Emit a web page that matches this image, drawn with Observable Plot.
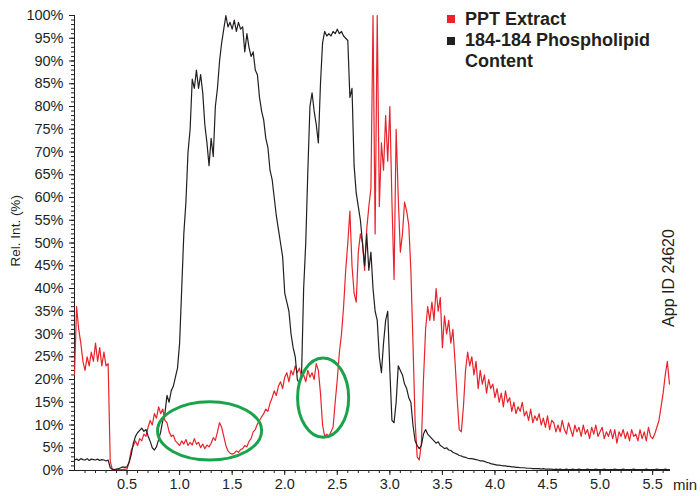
<!DOCTYPE html>
<html><head><meta charset="utf-8">
<script src="https://cdn.jsdelivr.net/npm/d3@7"></script>
<script src="https://cdn.jsdelivr.net/npm/@observablehq/plot@0.6"></script>
<style>
body{margin:0;background:#fff}
#wrap{position:relative;width:700px;height:496px;font-family:"Liberation Sans",Arial,Helvetica,sans-serif;color:#231f20}
.ov{position:absolute;white-space:nowrap;line-height:1}
</style>
</head><body><div id="wrap"></div>
<script>
// Retention time grid: one sample every 0.02 min, 0.00 … 5.66 min
const seriesNames = ["PPT Extract", "184-184 Phospholipid Content"];
const seriesColors = ["#e8232b", "#231f20"];

// PPT Extract (red), % relative intensity
const pptExtract = [
21,36,31,28,24,22,25,23,26,24,
28,24,27,23,26,23,23.5,2,0.2,0.2,
0.2,0.2,0.2,0.2,0.3,0.3,2,4.5,5.5,6.5,
5.5,7,6.5,8,7.5,9.5,11,10,12.5,11.5,
14,12.5,13.5,11,10.5,8.5,7.5,7.8,6.5,6,
5.5,6.5,5.8,6.8,5.5,6.2,5.6,7.0,5.8,6.2,
5.0,5.8,4.8,5.6,5.2,6.0,7.2,6.6,8.5,10.5,
9.5,7.5,5.5,4.3,3.8,3.6,3.8,4.3,4.0,4.6,
4.8,5.5,5.2,6.4,7.0,8.5,9.0,10.2,11.0,11.8,
12.5,13.5,13.0,14.8,16.0,17.5,16.5,18.5,19.5,18.0,
20.5,21.5,19.5,22.0,21.0,23.0,21.5,22.5,20.5,21.0,
19.5,22,20.5,21.5,20,23.5,22,17,10,7.5,
8,7.5,8.5,9.5,15,20,26,30,36,44,
50,57,45,39,37,48,52,50,44,53,
58,62,100,52,100,58,72,66,78,68,
80,59,42,75,60,48,52,59,57,54,
44,28,11,3,2.3,6,20,31,36,33,
37,33,40,35,38,27,34,30,33,28,
31,24,16,9,8.5,14,22,26,23,25,
21,24,18,22,19,21,17,20,18,19,
16,18,15,17,14,17.5,15,16,13,15,
12.5,14,13,15,12,13,11,13.5,10.5,12,
11,12.5,10,11.5,9.5,12,9,11,10.5,8.5,
10,8.5,11,9,8,10.5,9,7.5,10,8.5,
9.5,7.5,10,8,9,7,9.5,8,10,7.5,
8.5,9.5,7,8.5,7.5,9,7,9,6,8.5,
7.5,9,7,8.5,6.5,9,7.5,8,6.5,9,
7,8.5,6.5,9.5,7.5,7,8,9.5,11,14,
17,21,24,19
];

// 184-184 Phospholipid Content (black), % relative intensity
const phospholipid = [
2.3,2.5,2.2,2.6,2.4,2.3,2.6,2.2,2.5,2.4,
2.3,2.5,2.2,2.4,2.3,2.1,2.3,0.6,0.3,0.2,
0.3,0.4,0.6,0.8,0.7,0.8,1.8,3.5,6.0,7.5,
8.3,8.8,9.3,8.6,9.0,7.6,6.4,5.0,4.5,5.2,
6.8,8.5,11.0,12.5,16.5,15.0,17.5,18.5,20.5,22.5,
28,40,52,59,70,75,86,84,88,84,
87,83,76,72,67,73,69,80,84,90,
94,97,100,97.5,98.5,97,99,96.5,98.5,97,
97.5,92,96,93,91,92,88,87,82,79,
77,73,71,66,64,60,56,53,50,47,
39,37,35,30,27,25,20,19,21,40,
50,66,80,83,79,76,72,85,94,96.5,
95.5,96,95.5,96.5,96,97,96,96.5,95.5,95,
94.5,82,84,67,61,58,55,50,45,52,
44,48,40,35,33,25,21.5,28,33,35,
22,11,10.5,15,23,22,21,19,18,16,
15,10,6.6,5.5,4.8,5.5,8,9,8,7.5,
7,6.5,6,6.3,5.5,5.2,4.8,5,4.5,4.4,
4.0,3.8,3.6,3.3,3.2,3.0,2.9,2.7,2.6,2.6,
2.5,2.4,2.3,2.1,2.1,2.0,1.8,1.7,1.5,1.4,
1.3,1.2,1.2,1.1,1.0,1.0,0.9,0.9,0.8,0.8,
0.7,0.7,0.6,0.6,0.6,0.5,0.5,0.5,0.4,0.4,
0.4,0.4,0.3,0.4,0.3,0.3,0.3,0.3,0.2,0.3,
0.2,0.3,0.2,0.2,0.3,0.2,0.2,0.3,0.2,0.2,
0.3,0.2,0.2,0.2,0.3,0.2,0.2,0.2,0.3,0.2,
0.2,0.2,0.3,0.2,0.2,0.2,0.2,0.3,0.2,0.2,
0.2,0.3,0.2,0.2,0.2,0.2,0.3,0.2,0.2,0.2,
0.2,0.2,0.3,0.2,0.2,0.2,0.2,0.3,0.2,0.2,
0.2,0.3,0.2,0.2
];

const times = pptExtract.map((_, i) => +(i * 0.02).toFixed(2));

const xTicks = [0.5, 1.0, 1.5, 2.0, 2.5, 3.0, 3.5, 4.0, 4.5, 5.0, 5.5];
const xTickLabels = ["0.5","1.0","1.5","2.0","2.5","3.0","3.5","4.0","4.5","5.0","5.5"];
const yTicks = [0,5,10,15,20,25,30,35,40,45,50,55,60,65,70,75,80,85,90,95,100];
const xMinor = d3.range(1, 57).map(d => d / 10);
const yMinor = d3.range(0, 101);

// highlighted regions (green ellipses): centre and half-axes in data units
const ellipseT = [1.29, 2.37];
const ellipseV = [8.6, 15.9];
const ellipseRT = [0.495, 0.243];
const ellipseRV = [6.4, 8.7];

const axisTitle = "Rel. Int. (%)";
const xUnit = "min";
const appId = "App ID 24620";

const chart = Plot.plot({
  width: 700, height: 496,
  marginLeft: 74, marginRight: 30, marginTop: 15, marginBottom: 26,
  style: {fontFamily: '"Liberation Sans", Arial, Helvetica, sans-serif', fontSize: "14px", color: "#231f20", background: "transparent"},
  x: {domain: [0, 5.67]},
  y: {domain: [0, 100]},
  marks: [
    Plot.axisY(yMinor, {tickSize: 3, fill: "none", label: null}),
    Plot.axisY(yTicks, {tickSize: 5, tickPadding: 6, fontSize: 14.5, tickFormat: d => d + "%", label: null}),
    Plot.axisX(xMinor, {tickSize: 3, fill: "none", label: null}),
    Plot.axisX(xTicks, {tickSize: 5, tickPadding: 3, fontSize: 14.5, tickFormat: (d, i) => xTickLabels[xTicks.indexOf(d)], label: null}),
    Plot.ruleX([0], {stroke: "#231f20"}),
    Plot.ruleY([0], {stroke: "#231f20"}),
    Plot.line(pptExtract, {x: times, y: pptExtract, stroke: seriesColors[0], strokeWidth: 1.2}),
    Plot.line(phospholipid, {x: times, y: phospholipid, stroke: seriesColors[1], strokeWidth: 1.2})
  ]
});

const wrap = document.getElementById("wrap");
wrap.appendChild(chart);

// green ellipses positioned through the chart's scales
const sx = chart.scale("x"), sy = chart.scale("y");
const ns = "http://www.w3.org/2000/svg";
ellipseT.forEach((t, i) => {
  const e = document.createElementNS(ns, "ellipse");
  const cx = sx.apply(t), cy = sy.apply(ellipseV[i]);
  e.setAttribute("cx", cx);
  e.setAttribute("cy", cy);
  e.setAttribute("rx", Math.abs(sx.apply(t + ellipseRT[i]) - cx));
  e.setAttribute("ry", Math.abs(sy.apply(ellipseV[i] + ellipseRV[i]) - cy));
  e.setAttribute("fill", "none");
  e.setAttribute("stroke", "#19a44b");
  e.setAttribute("stroke-width", "3");
  chart.appendChild(e);
});

function ov(text, css) {
  const d = document.createElement("div");
  d.className = "ov";
  d.textContent = text;
  Object.assign(d.style, css);
  wrap.appendChild(d);
  return d;
}
// y axis title (rotated)
ov(axisTitle, {left: "-34px", top: "224px", width: "100px", textAlign: "center", fontSize: "13.5px", transform: "rotate(-90deg)"});
// x unit
ov(xUnit, {left: "673px", top: "477px", fontSize: "15px"});
// App ID (rotated)
ov(appId, {left: "619px", top: "270px", width: "100px", height: "16px", textAlign: "center", fontSize: "16px", transform: "rotate(-90deg)"});

// legend
seriesColors.forEach((c, i) => {
  const s = document.createElement("div");
  Object.assign(s.style, {position: "absolute", left: "447px", top: (15 + 22 * i) + "px", width: "8px", height: "8px", background: c});
  wrap.appendChild(s);
});
const leg = document.createElement("div");
Object.assign(leg.style, {position: "absolute", left: "465px", top: "9.3px", fontSize: "18px", fontWeight: "bold", lineHeight: "21px", width: "220px"});
leg.innerHTML = "<div>" + seriesNames[0] + "</div><div>184-184 Phospholipid</div><div>Content</div>";
wrap.appendChild(leg);
</script>
</body></html>
